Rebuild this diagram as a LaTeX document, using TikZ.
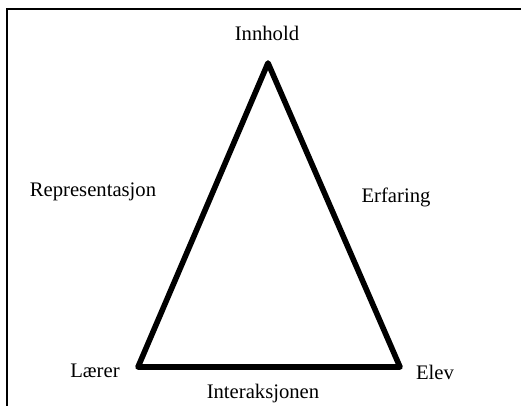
\documentclass[tikz,border=0pt]{standalone}
\usepackage{fontspec}
\setmainfont{Liberation Serif}
\begin{document}
\begin{tikzpicture}[x=0.75pt,y=-0.75pt,
  lbl/.style={font=\fontsize{15.5}{18}\selectfont, inner sep=0pt},
  side/.style={line width=4.2pt, line join=round, line cap=round},
  frame/.style={line width=1.5pt}]
\useasboundingbox (0,0) rectangle (521,405);
% open frame: left and top edges only
\coordinate (fb) at (7,410);
\coordinate (fc) at (7,9);
\coordinate (fr) at (525,9);
\draw[frame] (fb) -- (fc) -- (fr);
% triangle corners
\coordinate (top) at (268,63);
\coordinate (bl) at (138,367);
\coordinate (br) at (400,367);
\draw[side] (top) -- (br) -- (bl) -- cycle;
% labels
\node[lbl] (innhold) at (267,33) {Innhold};
\node[lbl] (repr) at (93,192) {Representasjon};
\node[lbl] (erf) at (396,197) {Erfaring};
\node[lbl] (laerer) at (95,371) {Lærer};
\node[lbl] (elev) at (435,372) {Elev};
\node[lbl] (inter) at (263,394) {Interaksjonen};
\end{tikzpicture}
\end{document}
